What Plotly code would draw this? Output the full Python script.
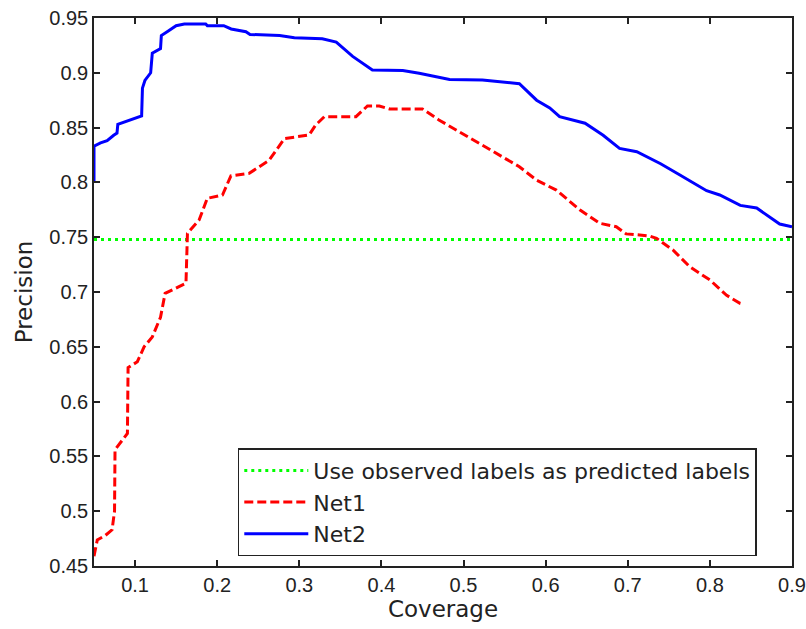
import plotly.graph_objects as go

# Net2 (blue solid)
net2_x = [0.05, 0.05, 0.058, 0.066, 0.074, 0.078, 0.079, 0.090, 0.100, 0.108, 0.109, 0.112, 0.119, 0.120,
          0.121, 0.131, 0.132, 0.140, 0.150, 0.160, 0.186, 0.188, 0.208, 0.217, 0.235, 0.240, 0.276, 0.294,
          0.328, 0.345, 0.365, 0.389, 0.426, 0.446, 0.483, 0.523, 0.556, 0.568, 0.589, 0.605, 0.617, 0.648,
          0.670, 0.690, 0.711, 0.740, 0.763, 0.796, 0.812, 0.837, 0.857, 0.885, 0.900]
net2_y = [0.800, 0.833, 0.836, 0.838, 0.843, 0.845, 0.853, 0.856, 0.858, 0.8606, 0.886, 0.893, 0.900, 0.910,
          0.918, 0.922, 0.934, 0.938, 0.943, 0.9445, 0.9445, 0.943, 0.943, 0.940, 0.9375, 0.935, 0.934, 0.932,
          0.931, 0.928, 0.915, 0.9025, 0.902, 0.8995, 0.894, 0.8935, 0.891, 0.890, 0.875, 0.868, 0.860, 0.854,
          0.843, 0.831, 0.828, 0.817, 0.807, 0.7924, 0.7885, 0.779, 0.7766, 0.762, 0.7596]

# Net1 (red dashed)
net1_x = [0.05, 0.054, 0.064, 0.072, 0.075, 0.0756, 0.0907, 0.0915, 0.1028, 0.111, 0.121, 0.131, 0.1366,
          0.1496, 0.162, 0.1638, 0.178, 0.188, 0.2065, 0.2167, 0.239, 0.263, 0.282, 0.312, 0.320, 0.3305,
          0.369, 0.383, 0.3975, 0.41, 0.450, 0.470, 0.495, 0.511, 0.544, 0.568, 0.589, 0.613, 0.6415, 0.666,
          0.686, 0.698, 0.7146, 0.727, 0.735, 0.755, 0.7756, 0.800, 0.8204, 0.8366, 0.84]
net1_y = [0.459, 0.4737, 0.478, 0.483, 0.500, 0.556, 0.571, 0.631, 0.6364, 0.650, 0.659, 0.677, 0.6988,
          0.7034, 0.708, 0.7535, 0.7657, 0.7855, 0.7885, 0.806, 0.8083, 0.820, 0.840, 0.8433, 0.8524, 0.860,
          0.860, 0.8697, 0.8697, 0.867, 0.867, 0.857, 0.8463, 0.8387, 0.825, 0.8143, 0.802, 0.793, 0.775, 0.7627,
          0.7596, 0.753, 0.752, 0.751, 0.749, 0.7383, 0.723, 0.711, 0.697, 0.6897, 0.689]

# Baseline (green dotted)
base_x = [0.05, 0.9]
base_y = [0.748, 0.748]

x_ticks = [0.1, 0.2, 0.3, 0.4, 0.5, 0.6, 0.7, 0.8, 0.9]
y_ticks = [0.45, 0.5, 0.55, 0.6, 0.65, 0.7, 0.75, 0.8, 0.85, 0.9, 0.95]

TICKFONT = "Liberation Sans"
TEXTFONT = "DejaVu Sans"
INK = "#222"

fig = go.Figure()
fig.add_trace(go.Scatter(x=base_x, y=base_y, mode="lines",
                         name="Use observed labels as predicted labels",
                         line=dict(color="#00FF00", width=3, dash="3px,4px")))
fig.add_trace(go.Scatter(x=net1_x, y=net1_y, mode="lines", name="Net1",
                         line=dict(color="#FF0000", width=3, dash="9px,4px")))
fig.add_trace(go.Scatter(x=net2_x, y=net2_y, mode="lines", name="Net2",
                         line=dict(color="#0000FF", width=3)))

axis_common = dict(showline=True, linecolor=INK, linewidth=1.5, mirror="ticks",
                   ticks="inside", ticklen=6, tickwidth=1.5, tickcolor=INK,
                   showgrid=False, zeroline=False, automargin=False,
                   tickfont=dict(family=TICKFONT, size=20, color=INK))

fig.update_xaxes(range=[0.05, 0.9], tickvals=x_ticks, ticktext=[str(v) for v in x_ticks],
                 title=dict(text="Coverage", font=dict(family=TEXTFONT, size=23, color=INK), standoff=0),
                 **axis_common)
fig.update_yaxes(range=[0.45, 0.95], tickvals=y_ticks, ticktext=[f"{v:g}" for v in y_ticks],
                 title=dict(text="Precision", font=dict(family=TEXTFONT, size=23, color=INK), standoff=10),
                 **axis_common)

fig.update_layout(
    width=806, height=629,
    margin=dict(l=94, r=14, t=18, b=63, autoexpand=False),
    plot_bgcolor="white", paper_bgcolor="white",
    font=dict(family=TEXTFONT, size=22, color=INK),
    legend=dict(x=0.206, y=0.018, xanchor="left", yanchor="bottom",
                bordercolor=INK, borderwidth=1.5, bgcolor="white", itemwidth=64,
                font=dict(family=TEXTFONT, size=22, color=INK)),
)

fig.write_html("out.html", config={"displayModeBar": False},
               post_script="document.body.style.margin='0';document.body.style.overflow='hidden';")
